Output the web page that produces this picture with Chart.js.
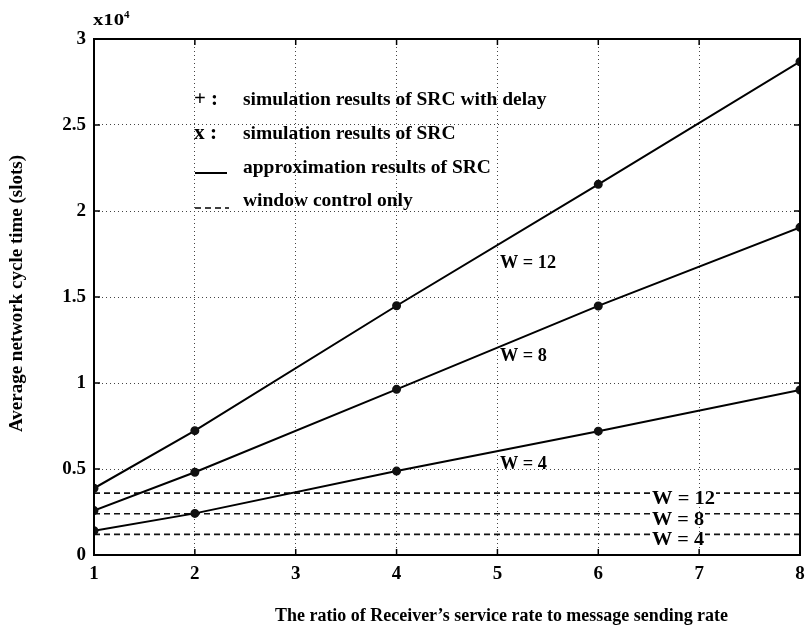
<!DOCTYPE html>
<html>
<head>
<meta charset="utf-8">
<script src="https://cdn.jsdelivr.net/npm/chart.js@4/dist/chart.umd.min.js"></script>
<style>
  html, body { margin: 0; padding: 0; background: #fff; }
  #wrap { width: 806px; height: 627px; }
</style>
</head>
<body>
<div id="wrap"><canvas id="c" width="806" height="627"></canvas></div>
<script>
// Ratio of receiver's service rate to message sending rate
const ratios = [1, 2, 4, 6, 8];
// Average network cycle time (slots), approximation / simulation results of SRC
const cycleW12 = [3880, 7230, 14490, 21550, 28680];
const cycleW8  = [2580, 4810, 9630, 14480, 19050];
const cycleW4  = [1410, 2420, 4880, 7200, 9590];
// Window control only (constant over the ratio range)
const windowRange = [1, 8];
const windowW12 = 3600;
const windowW8  = 2400;
const windowW4  = 1200;
// Axis ticks
const xTicks = [1, 2, 3, 4, 5, 6, 7, 8];
const yTicks = [0, 5000, 10000, 15000, 20000, 25000, 30000];

const serif = '"Liberation Serif", "DejaVu Serif", serif';

function curve(ys) {
  return ratios.map((x, i) => ({ x: x, y: ys[i] }));
}
function flat(v) {
  return windowRange.map(x => ({ x: x, y: v }));
}

const solid = {
  borderColor: '#000', backgroundColor: '#000', borderWidth: 2,
  pointRadius: 3.5, pointStyle: 'circle', pointBackgroundColor: '#111', pointBorderColor: '#111',
  showLine: true, fill: false, tension: 0
};
const dashed = {
  borderColor: '#111', borderWidth: 1.6, borderDash: [6, 4],
  pointRadius: 0, showLine: true, fill: false
};

// Bold serif text; optionally stretched horizontally to a given width
function boldText(ctx, text, x, y, size, width) {
  ctx.font = 'bold ' + size + 'px ' + serif;
  const w = ctx.measureText(text).width;
  ctx.save();
  ctx.translate(x, y);
  if (width) ctx.scale(width / w, 1);
  ctx.fillText(text, 0, 0);
  ctx.restore();
}

// Frame, inward tick marks, in-plot labels and legend text
const decor = {
  id: 'decor',
  afterDraw(chart) {
    const ctx = chart.ctx, a = chart.chartArea;
    const xs = chart.scales.x, ys = chart.scales.y;
    ctx.save();
    ctx.strokeStyle = '#000';
    ctx.lineWidth = 2;
    ctx.strokeRect(a.left, a.top, a.right - a.left, a.bottom - a.top);
    ctx.lineWidth = 1.5;
    xTicks.forEach(v => {
      const px = xs.getPixelForValue(v);
      ctx.beginPath(); ctx.moveTo(px, a.bottom); ctx.lineTo(px, a.bottom - 6); ctx.stroke();
      ctx.beginPath(); ctx.moveTo(px, a.top); ctx.lineTo(px, a.top + 6); ctx.stroke();
    });
    yTicks.forEach(v => {
      const py = ys.getPixelForValue(v);
      ctx.beginPath(); ctx.moveTo(a.left, py); ctx.lineTo(a.left + 6, py); ctx.stroke();
      ctx.beginPath(); ctx.moveTo(a.right, py); ctx.lineTo(a.right - 6, py); ctx.stroke();
    });

    ctx.fillStyle = '#000';
    ctx.textAlign = 'left';
    ctx.textBaseline = 'alphabetic';
    // exponent above the y axis
    boldText(ctx, 'x10', 93, 25, 16, 31);
    boldText(ctx, '4', 124, 18, 11);

    // curve labels
    boldText(ctx, 'W = 12', 500, 268, 18, 56);
    boldText(ctx, 'W = 8', 500, 361, 18, 47);
    boldText(ctx, 'W = 4', 500, 469, 18, 47);
    // labels sitting on the window-control lines
    [['W = 12', 504, 63], ['W = 8', 525, 52], ['W = 4', 545, 52]].forEach(([t, y, w]) => {
      ctx.fillStyle = '#fff';
      ctx.fillRect(651, y - 13, w + 2, 14);
      ctx.fillStyle = '#000';
      boldText(ctx, t, 652, y, 18, w);
    });

    // legend
    ctx.textBaseline = 'middle';
    boldText(ctx, '+ :', 194, 100, 20, 24);
    boldText(ctx, 'x :', 194, 134, 20, 23);
    boldText(ctx, 'simulation results of SRC with delay', 243, 100, 19.5);
    boldText(ctx, 'simulation results of SRC', 243, 134, 19.5);
    boldText(ctx, 'approximation results of SRC', 243, 168, 19.5);
    boldText(ctx, 'window control only', 243, 201, 19.5);
    ctx.strokeStyle = '#000';
    ctx.lineWidth = 2;
    ctx.beginPath(); ctx.moveTo(195, 173); ctx.lineTo(227, 173); ctx.stroke();
    ctx.lineWidth = 1.6;
    ctx.setLineDash([6, 4]);
    ctx.beginPath(); ctx.moveTo(195, 208); ctx.lineTo(229, 208); ctx.stroke();
    ctx.setLineDash([]);

    // axis titles
    ctx.textBaseline = 'alphabetic';
    boldText(ctx, "The ratio of Receiver\u2019s service rate to message sending rate", 275, 621, 18, 453);
    ctx.save();
    ctx.translate(22, 432);
    ctx.rotate(-Math.PI / 2);
    boldText(ctx, 'Average network cycle time (slots)', 0, 0, 19, 277);
    ctx.restore();
    ctx.restore();
  }
};

new Chart(document.getElementById('c'), {
  type: 'scatter',
  data: {
    datasets: [
      Object.assign({ label: 'W = 12', data: curve(cycleW12) }, solid),
      Object.assign({ label: 'W = 8', data: curve(cycleW8) }, solid),
      Object.assign({ label: 'W = 4', data: curve(cycleW4) }, solid),
      Object.assign({ label: 'window W = 12', data: flat(windowW12) }, dashed),
      Object.assign({ label: 'window W = 8', data: flat(windowW8) }, dashed),
      Object.assign({ label: 'window W = 4', data: flat(windowW4) }, dashed)
    ]
  },
  options: {
    responsive: false,
    animation: false,
    layout: { padding: { top: 39, right: -3, left: 0, bottom: 0 } },
    plugins: { legend: { display: false }, tooltip: { enabled: false } },
    scales: {
      x: {
        type: 'linear', min: 1, max: 8,
        afterBuildTicks: s => { s.ticks = xTicks.map(v => ({ value: v })); },
        afterFit: s => { s.height = 72; s.paddingLeft = 0; s.paddingRight = 0; },
        grid: { color: '#444', lineWidth: 1, drawTicks: false },
        border: { display: false, dash: [1, 3] },
        ticks: {
          color: '#000', padding: 8,
          font: { family: serif, size: 19, weight: 'bold' }
        }
      },
      y: {
        type: 'linear', min: 0, max: 30000,
        afterBuildTicks: s => { s.ticks = yTicks.map(v => ({ value: v })); },
        afterFit: s => { s.width = 94; s.paddingTop = 0; s.paddingBottom = 0; },
        grid: { color: '#444', lineWidth: 1, drawTicks: false },
        border: { display: false, dash: [1, 3] },
        ticks: {
          color: '#000', padding: 8,
          font: { family: serif, size: 19, weight: 'bold' },
          callback: v => String(v / 10000)
        }
      }
    }
  },
  plugins: [decor]
});
</script>
</body>
</html>
